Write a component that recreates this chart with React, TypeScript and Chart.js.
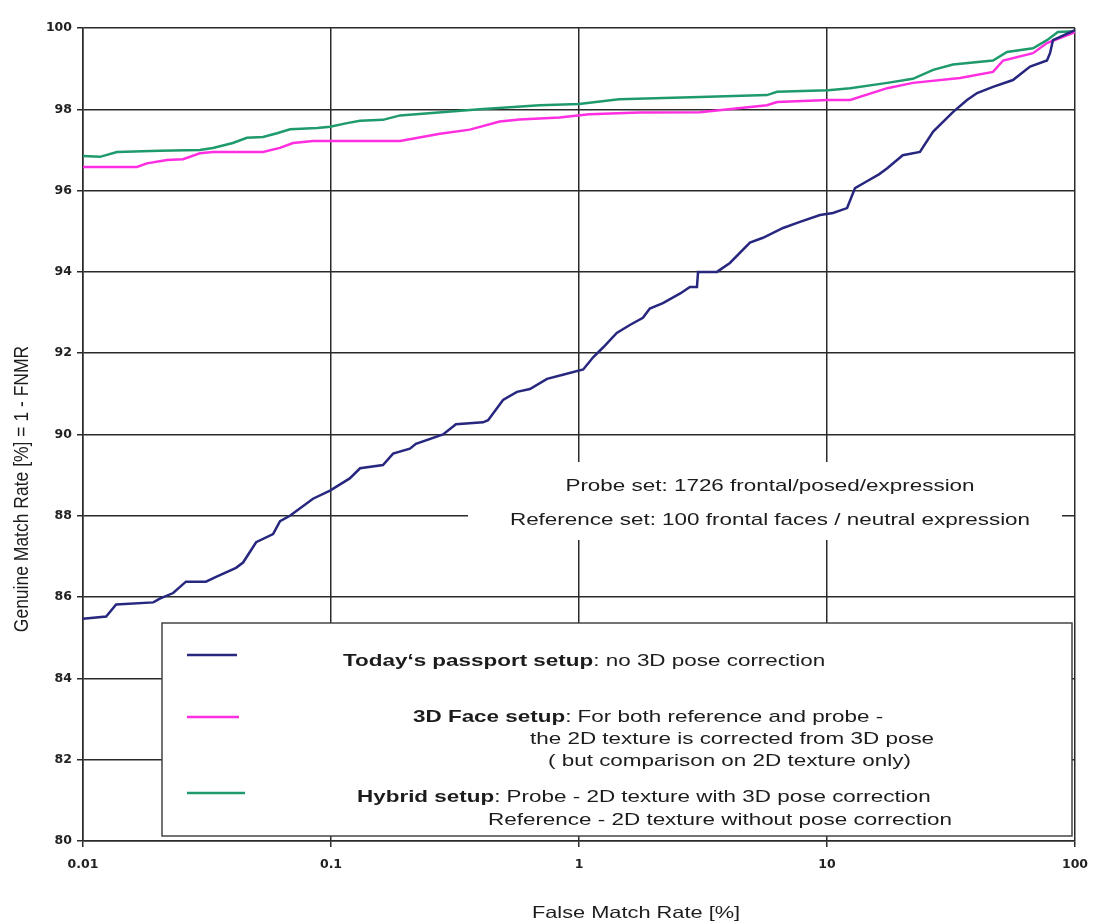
import React, { useEffect, useRef } from "react";
import { Chart, registerables } from "chart.js";

Chart.register(...registerables);

// ---------- data ----------
const xTickValues = [0.01, 0.1, 1, 10, 100];
const xTickLabels = ["0.01", "0.1", "1", "10", "100"];
const yTickMin = 80;
const yTickMax = 100;
const yTickStep = 2;

const passportFmr = [
  0.01, 0.0124, 0.0136, 0.0192, 0.0205, 0.0231, 0.026, 0.0313, 0.0344, 0.0414,
  0.0442, 0.0499, 0.0584, 0.0623, 0.0683, 0.0846, 0.0991, 0.119, 0.131, 0.162,
  0.178, 0.208, 0.22, 0.283, 0.319, 0.41, 0.43, 0.494, 0.562, 0.634, 0.743,
  0.861, 1.04, 1.14, 1.25, 1.42, 1.61, 1.81, 1.93, 2.18, 2.56, 2.8, 2.99, 3.02,
  3.6, 4.06, 4.89, 5.52, 6.65, 7.78, 9.37, 10.57, 12.05, 12.97, 14.2, 16.2,
  17.5, 20.2, 23.7, 26.8, 32.2, 36.7, 40.3, 46.7, 56.2, 65.9, 77.1, 79.3, 81.5,
  100,
];
const passportGmr = [
  85.47, 85.52, 85.82, 85.87, 85.97, 86.1, 86.38, 86.38, 86.5, 86.72, 86.85,
  87.35, 87.55, 87.87, 88.0, 88.42, 88.62, 88.92, 89.17, 89.25, 89.53, 89.65,
  89.77, 90.0, 90.25, 90.3, 90.35, 90.85, 91.05, 91.12, 91.37, 91.47, 91.6,
  91.9, 92.14, 92.5, 92.7, 92.87, 93.1, 93.23, 93.47, 93.63, 93.63, 94.0, 94.0,
  94.22, 94.72, 94.84, 95.08, 95.23, 95.4, 95.45, 95.57, 96.06, 96.2, 96.4,
  96.55, 96.87, 96.95, 97.45, 97.93, 98.23, 98.4, 98.55, 98.72, 99.05, 99.2,
  99.38, 99.7, 99.95,
];

const face3dFmr = [
  0.01, 0.0165, 0.0181, 0.0218, 0.0253, 0.0296, 0.0334, 0.0532, 0.0622, 0.0703,
  0.0847, 0.19, 0.275, 0.363, 0.479, 0.576, 0.835, 1.1, 1.75, 3.07, 5.73, 6.29,
  10.1, 12.4, 17.5, 22.2, 34.4, 46.7, 51.3, 67.7, 77.1, 100,
];
const face3dGmr = [
  96.58, 96.58, 96.67, 96.75, 96.77, 96.92, 96.95, 96.95, 97.05, 97.17, 97.22,
  97.22, 97.4, 97.5, 97.7, 97.75, 97.8, 97.88, 97.92, 97.93, 98.1, 98.18,
  98.23, 98.23, 98.52, 98.65, 98.77, 98.92, 99.2, 99.38, 99.63, 99.9,
];

const hybridFmr = [
  0.01, 0.0117, 0.0137, 0.0204, 0.0296, 0.0334, 0.0402, 0.0458, 0.0532, 0.0606,
  0.0684, 0.088, 0.0991, 0.116, 0.131, 0.162, 0.19, 0.398, 0.694, 1.0, 1.45,
  3.07, 5.73, 6.29, 10.1, 12.4, 17.5, 22.2, 26.8, 32.2, 46.7, 53.2, 67.7, 77.1,
  85.3, 100,
];
const hybridGmr = [
  96.85, 96.83, 96.95, 96.98, 97.0, 97.05, 97.17, 97.3, 97.32, 97.41, 97.51,
  97.54, 97.57, 97.66, 97.72, 97.74, 97.85, 98.0, 98.1, 98.13, 98.25, 98.3,
  98.35, 98.43, 98.47, 98.52, 98.65, 98.75, 98.97, 99.1, 99.2, 99.41, 99.5,
  99.7, 99.9, 99.92,
];

const seriesNames = ["Today‘s passport setup", "3D Face setup", "Hybrid setup"];
const seriesColors = ["#27277f", "#ff2ee0", "#1f9a6c"];

const legendBold = ["Today‘s passport setup", "3D Face setup", "", "", "Hybrid setup", ""];
const legendPlain = [
  ": no 3D pose correction",
  ": For both reference and probe -",
  "the 2D texture is corrected from 3D pose",
  "( but comparison on 2D texture only)",
  ": Probe - 2D texture with 3D pose correction",
  "Reference - 2D texture without pose correction",
];
const noteLines = [
  "Probe set: 1726 frontal/posed/expression",
  "Reference set: 100 frontal faces / neutral expression",
];
const xTitle = "False Match Rate [%]";
const yTitle = "Genuine Match Rate [%] = 1 - FNMR";

// ---------- layout (pixels) ----------
const W = 1113;
const H = 924;
const FONT = '"Liberation Sans", Arial, sans-serif';
const SX = 1.32; // horizontal widening of the reference lettering
const TEXT_SIZE = 17;
const legendBox = { x: 162, y: 623, w: 910, h: 213 };
const legendSampleRows = [655, 717, 793];
const legendSampleX0 = 187;
const legendSampleX1 = [237, 239, 245];
const legendTextPos = [
  [343, 661],
  [413, 717],
  [530, 739],
  [548, 761],
  [357, 797],
  [488, 820],
];
const noteBox = { x: 468, y: 462, w: 594, h: 78 };
const notePos = [
  [770, 486],
  [770, 520],
];

function stretchedText(
  ctx: CanvasRenderingContext2D,
  text: string,
  x: number,
  y: number,
  font: string,
  sx: number
): number {
  ctx.font = font;
  const w = ctx.measureText(text).width * sx;
  ctx.save();
  ctx.translate(x, y);
  ctx.scale(sx, 1);
  ctx.fillText(text, 0, 0);
  ctx.restore();
  return w;
}

const overlayPlugin = {
  id: "overlay",
  beforeDatasetsDraw(chart: any) {
    const ctx: CanvasRenderingContext2D = chart.ctx;
    ctx.save();
    ctx.fillStyle = "#ffffff";
    ctx.fillRect(noteBox.x, noteBox.y, noteBox.w, noteBox.h);
    ctx.fillRect(legendBox.x, legendBox.y, legendBox.w, legendBox.h);
    ctx.strokeStyle = "#444";
    ctx.lineWidth = 1.5;
    ctx.strokeRect(legendBox.x, legendBox.y, legendBox.w, legendBox.h);
    ctx.restore();
  },
  afterDraw(chart: any) {
    const ctx: CanvasRenderingContext2D = chart.ctx;
    ctx.save();
    ctx.fillStyle = "#1c1c1c";
    ctx.textBaseline = "middle";
    ctx.textAlign = "left";
    const bold = `bold ${TEXT_SIZE}px ${FONT}`;
    const plain = `${TEXT_SIZE}px ${FONT}`;

    // legend samples
    legendSampleRows.forEach((yy, i) => {
      ctx.strokeStyle = seriesColors[i];
      ctx.lineWidth = 2.5;
      ctx.beginPath();
      ctx.moveTo(legendSampleX0, yy);
      ctx.lineTo(legendSampleX1[i], yy);
      ctx.stroke();
    });

    // legend text
    legendPlain.forEach((t, i) => {
      let [x, y] = legendTextPos[i];
      if (legendBold[i]) x += stretchedText(ctx, legendBold[i], x, y, bold, SX);
      stretchedText(ctx, t, x, y, plain, SX);
    });

    // note text
    noteLines.forEach((t, i) => {
      ctx.font = plain;
      const w = ctx.measureText(t).width * SX;
      stretchedText(ctx, t, notePos[i][0] - w / 2, notePos[i][1], plain, SX);
    });

    // axis titles
    const xFont = `16.5px ${FONT}`;
    ctx.font = xFont;
    const xw = ctx.measureText(xTitle).width * SX;
    stretchedText(ctx, xTitle, 636 - xw / 2, 913, xFont, SX);

    ctx.save();
    ctx.translate(22, 489);
    ctx.rotate(-Math.PI / 2);
    ctx.scale(1, 1.15);
    ctx.font = `17.5px ${FONT}`;
    ctx.textAlign = "center";
    ctx.fillText(yTitle, 0, 0);
    ctx.restore();

    ctx.restore();
  },
};

export default function App() {
  const ref = useRef<HTMLCanvasElement | null>(null);

  useEffect(() => {
    if (!ref.current) return;
    const mk = (xs: number[], ys: number[]) => xs.map((x, i) => ({ x, y: ys[i] }));
    const tickFont = { family: '"DejaVu Sans", sans-serif', weight: "bold" as const, size: 12.5 };
    const chart = new Chart(ref.current, {
      type: "line",
      data: {
        datasets: [
          { label: seriesNames[0], data: mk(passportFmr, passportGmr) },
          { label: seriesNames[1], data: mk(face3dFmr, face3dGmr) },
          { label: seriesNames[2], data: mk(hybridFmr, hybridGmr) },
        ].map((d, i) => ({
          ...d,
          borderColor: seriesColors[i],
          backgroundColor: seriesColors[i],
          borderWidth: 2.5,
          pointRadius: 0,
          tension: 0,
          fill: false,
        })),
      },
      options: {
        responsive: false,
        animation: false,
        parsing: true,
        layout: { padding: { top: 28, right: 38, left: 0, bottom: 0 } },
        plugins: { legend: { display: false }, tooltip: { enabled: false }, title: { display: false } },
        scales: {
          x: {
            type: "logarithmic",
            min: xTickValues[0],
            max: xTickValues[xTickValues.length - 1],
            afterBuildTicks: (s: any) => {
              s.ticks = xTickValues.map((v) => ({ value: v, major: true }));
            },
            afterFit: (s: any) => {
              s.height = 83;
            },
            ticks: {
              autoSkip: false,
              maxRotation: 0,
              padding: 10,
              color: "#222",
              font: tickFont,
              callback: (v: any) => {
                const i = xTickValues.indexOf(Number(v));
                return i >= 0 ? xTickLabels[i] : "";
              },
            },
            grid: { color: "#2a2a2a", lineWidth: 1.5, tickLength: 6 },
            border: { color: "#2a2a2a", width: 1.5 },
          },
          y: {
            type: "linear",
            min: yTickMin,
            max: yTickMax,
            afterFit: (s: any) => {
              s.width = 83;
            },
            ticks: { stepSize: yTickStep, padding: 5, color: "#222", font: tickFont },
            grid: { color: "#2a2a2a", lineWidth: 1.5, tickLength: 6 },
            border: { color: "#2a2a2a", width: 1.5 },
          },
        },
      },
      plugins: [overlayPlugin],
    });
    return () => chart.destroy();
  }, []);

  return (
    <div style={{ position: "absolute", left: 0, top: 0, width: W, height: H, background: "#fff" }}>
      <canvas ref={ref} width={W} height={H} style={{ display: "block" }} />
    </div>
  );
}
